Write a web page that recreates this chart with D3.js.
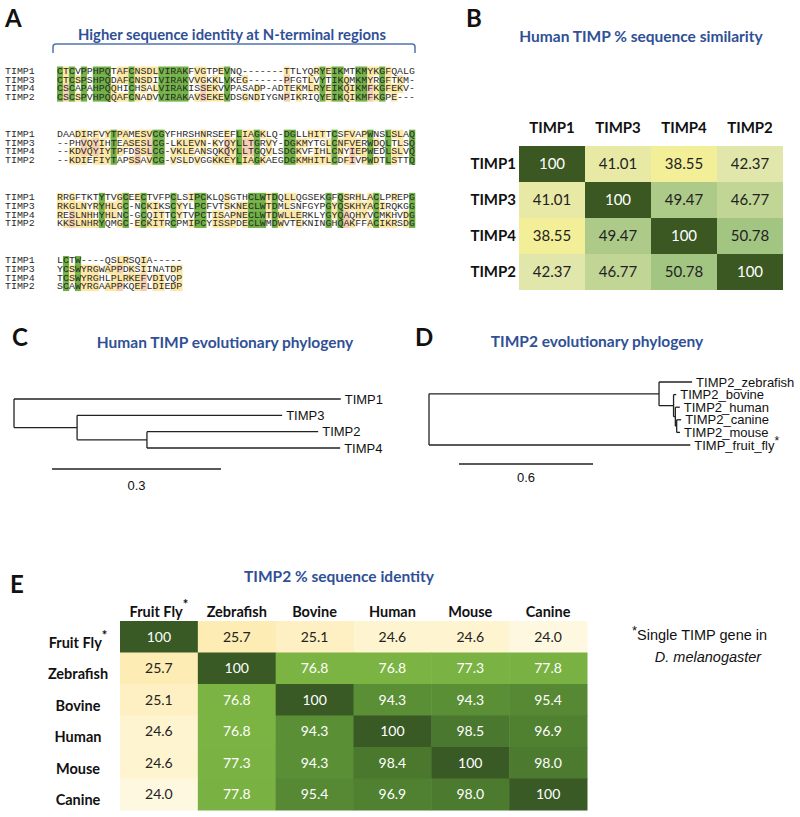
<!DOCTYPE html>
<html>
<head>
<meta charset="utf-8">
<script src="https://cdn.jsdelivr.net/npm/d3@7"></script>
<style>
  body { margin: 0; background: #fff; }
  text { font-family: Lato, "Open Sans", sans-serif; }
  .mono { font-family: "Liberation Mono", "DejaVu Sans Mono", monospace; font-size: 9.94px; fill: #2a2a2a; }
  .arial { font-family: "Liberation Sans", Arial, sans-serif; }
</style>
</head>
<body>
<svg id="fig" width="800" height="817"></svg>
<script>
// ---- data ----
const seqNames = ['TIMP1', 'TIMP3', 'TIMP4', 'TIMP2'];
const alignBlocks = [
  ['CTCVPPHPQTAFCNSDLVIRAKFVGTPEVNQ-------TTLYQRYEIKMTKMYKGFQALG',
   'CTCSPSHPQDAFCNSDIVIRAKVVGKKLVKEG------PFGTLVYTIKQMKMYRGFTKM-',
   'CSCAPAHPQQHICHSALVIRAKISSEKVVPASADP-ADTEKMLRYEIKQIKMFKGFEKV-',
   'CSCSPVHPQQAFCNADVVIRAKAVSEKEVDSGNDIYGNPIKRIQYEIKQIKMFKGPE---'],
  ['DAADIRFVYTPAMESVCGYFHRSHNRSEEFLIAGKLQ-DGLLHITTCSFVAPWNSLSLAQ',
   '--PHVQYIHTEASESLCG-LKLEVN-KYQYLLTGRVY-DGKMYTGLCNFVERWDQLTLSQ',
   '--KDVQYIYTPFDSSLCG-VKLEANSQKQYLLTGQVLSDGKVFIHLCNYIEPWEDLSLVQ',
   '--KDIEFIYTAPSSAVCG-VSLDVGGKKEYLIAGKAEGDGKMHITLCDFIVPWDTLSTTQ'],
  ['RRGFTKTYTVGCEECTVFPCLSIPCKLQSGTHCLWTDQLLQGSEKGFQSRHLACLPREPG',
   'RKGLNYRYHLGC-NCKIKSCYYLPCFVTSKNECLWTDMLSNFGYPGYQSKHYACIRQKGG',
   'RESLNHHYHLNC-GCQITTCYTVPCTISAPNECLWTDWLLERKLYGYQAQHYVCMKHVDG',
   'KKSLNHRYQMGC-ECKITRCPMIPCYISSPDECLWMDWVTEKNINGHQAKFFACIKRSDG'],
  ['LCTW----QSLRSQIA-----',
   'YCSWYRGWAPPDKSIINATDP',
   'TCSWYRGHLPLRKEFVDIVQP',
   'SCAWYRGAAPPKQEFLDIEDP']
];

const simLabels = ['TIMP1', 'TIMP3', 'TIMP4', 'TIMP2'];
const simValues = [
  [100, 41.01, 38.55, 42.37],
  [41.01, 100, 49.47, 46.77],
  [38.55, 49.47, 100, 50.78],
  [42.37, 46.77, 50.78, 100]
];

const idLabels = ['Fruit Fly', 'Zebrafish', 'Bovine', 'Human', 'Mouse', 'Canine'];
const idValues = [
  [100, 25.7, 25.1, 24.6, 24.6, 24.0],
  [25.7, 100, 76.8, 76.8, 77.3, 77.8],
  [25.1, 76.8, 100, 94.3, 94.3, 95.4],
  [24.6, 76.8, 94.3, 100, 98.5, 96.9],
  [24.6, 77.3, 94.3, 98.4, 100, 98.0],
  [24.0, 77.8, 95.4, 96.9, 98.0, 100]
];

// branch lengths
const humanTree = {name: '', len: 0, children: [
  {name: 'TIMP1', len: 0.58},
  {name: '', len: 0.112, children: [
    {name: 'TIMP3', len: 0.364},
    {name: '', len: 0.124, children: [
      {name: 'TIMP2', len: 0.304},
      {name: 'TIMP4', len: 0.343}
    ]}
  ]}
]};
const humanLeaves = ['TIMP1', 'TIMP3', 'TIMP2', 'TIMP4'];

const timp2Tree = {name: '', len: 0, children: [
  {name: '', len: 1.03, children: [
    {name: 'TIMP2_zebrafish', len: 0.148},
    {name: '', len: 0.065, children: [
      {name: 'TIMP2_bovine', len: 0.012},
      {name: '', len: 0.008, children: [
        {name: 'TIMP2_human', len: 0.02},
        {name: '', len: 0.006, children: [
          {name: 'TIMP2_canine', len: 0.02},
          {name: 'TIMP2_mouse', len: 0.015}
        ]}
      ]}
    ]}
  ]},
  {name: 'TIMP_fruit_fly', len: 1.17}
]};
const timp2Leaves = ['TIMP2_zebrafish', 'TIMP2_bovine', 'TIMP2_human', 'TIMP2_canine', 'TIMP2_mouse', 'TIMP_fruit_fly'];

// ---- drawing ----
const svg = d3.select('#fig');
const blue = '#2f5096';

// panel letters
[['A', 5, 27], ['B', 466, 27], ['C', 12, 346], ['D', 415, 346], ['E', 10, 593]].forEach(d => {
  svg.append('text').attr('x', d[1]).attr('y', d[2]).text(d[0])
     .style('font-size', '24px').style('font-weight', 'bold').style('fill', '#111');
});

// panel titles
[['Higher sequence identity at N-terminal regions', 232, 40, 14.8],
 ['Human TIMP % sequence similarity', 641, 42, 15.5],
 ['Human TIMP evolutionary phylogeny', 225, 348, 15.5],
 ['TIMP2 evolutionary phylogeny', 597, 347, 15.5],
 ['TIMP2 % sequence identity', 339, 582, 15.5]].forEach(d => {
  svg.append('text').attr('x', d[1]).attr('y', d[2]).attr('text-anchor', 'middle').text(d[0])
     .style('font-size', d[3] + 'px').style('font-weight', 'bold').style('fill', blue);
});

// ---- A: alignment ----
svg.append('path')
   .attr('d', 'M53,53 L53,47 Q53,44 56,44 L412,44 Q415,44 415,47 L415,53')
   .attr('fill', 'none').attr('stroke', '#4f74ad').attr('stroke-width', 1.5);

const hlColor = {g: '#6fb043', y: '#fde7a4', p: '#f6cdb3'};
const alnX = d3.scaleBand().domain(d3.range(60)).range([57, 415]);
const blockY = d3.scaleLinear().domain([0, 3]).range([66.5, 256]);
const rowH = 8.7;

function colClasses(col) {
  const res = col.filter(c => c !== '-');
  const counts = d3.rollup(res, v => v.length, c => c);
  if (res.length === col.length && counts.size === 1) return col.map(() => 'g');
  let cons = null, best = 1;
  col.forEach(c => { if (c !== '-' && counts.get(c) > best) { best = counts.get(c); cons = c; } });
  return col.map(c => (c === '-' || counts.get(c) < 2) ? null : (c === cons ? 'y' : 'p'));
}

alignBlocks.forEach((block, b) => {
  const top = blockY(b);
  const g = svg.append('g');
  const cells = [];
  d3.range(block[0].length).forEach(i => {
    const cls = colClasses(block.map(s => s[i]));
    cls.forEach((c, r) => { if (c) cells.push({i, r, c}); });
  });
  g.selectAll('rect').data(cells).enter().append('rect')
   .attr('x', d => alnX(d.i)).attr('y', d => top + d.r * rowH)
   .attr('width', alnX.bandwidth() + 0.3).attr('height', rowH + 0.3)
   .attr('fill', d => hlColor[d.c]);
  block.forEach((s, r) => {
    g.append('text').attr('class', 'mono').attr('x', 5).attr('y', top + r * rowH + 7.3).text(seqNames[r]);
    g.append('g').selectAll('text').data(s.split('')).enter().append('text')
     .attr('class', 'mono')
     .attr('x', (d, i) => alnX(i) + alnX.bandwidth() / 2)
     .attr('y', top + r * rowH + 7.3)
     .attr('text-anchor', 'middle')
     .text(d => d);
  });
});

// ---- B: similarity heatmap ----
const bx = d3.scaleBand().domain(simLabels).range([519, 783]);
const by = d3.scaleBand().domain(simLabels).range([146, 290]);
const simColor = d3.scaleLinear()
  .domain([38.55, 42.37, 50.78, 100])
  .range(['#f3ee98', '#e1e7aa', '#a3c582', '#3b5823']);
const simCells = [];
simValues.forEach((row, i) => row.forEach((v, j) => simCells.push({r: simLabels[i], c: simLabels[j], v})));
const gB = svg.append('g');
gB.selectAll('rect').data(simCells).enter().append('rect')
  .attr('x', d => bx(d.c)).attr('y', d => by(d.r))
  .attr('width', bx.bandwidth()).attr('height', by.bandwidth())
  .attr('fill', d => simColor(d.v));
gB.selectAll('text.val').data(simCells).enter().append('text')
  .attr('x', d => bx(d.c) + bx.bandwidth() / 2).attr('y', d => by(d.r) + by.bandwidth() / 2 + 5)
  .attr('text-anchor', 'middle')
  .style('font-size', '15px')
  .style('fill', d => d.v === 100 ? '#fff' : '#222')
  .text(d => d.v === 100 ? '100' : d.v.toFixed(2));
gB.selectAll('text.col').data(simLabels).enter().append('text')
  .attr('x', d => bx(d) + bx.bandwidth() / 2).attr('y', 133)
  .attr('text-anchor', 'middle').style('font-size', '15px').style('font-weight', 'bold').style('fill', '#111')
  .text(d => d);
gB.selectAll('text.row').data(simLabels).enter().append('text')
  .attr('x', 516).attr('y', d => by(d) + by.bandwidth() / 2 + 5)
  .attr('text-anchor', 'end').style('font-size', '15px').style('font-weight', 'bold').style('fill', '#111')
  .text(d => d);

// ---- C, D: trees ----
function drawTree(data, leaves, x, yRange, fontSize, star) {
  const y = d3.scalePoint().domain(leaves).range(yRange);
  const root = d3.hierarchy(data);
  root.eachBefore(n => { n.dist = (n.parent ? n.parent.dist : 0) + n.data.len; });
  root.leaves().forEach(n => { n.py = y(n.data.name); });
  root.eachAfter(n => {
    if (n.children) n.py = (n.children[0].py + n.children[n.children.length - 1].py) / 2;
  });
  const g = svg.append('g').attr('stroke', '#222').attr('stroke-width', 1.3).attr('fill', 'none');
  root.descendants().filter(n => n.parent).forEach(n => {
    g.append('line').attr('x1', x(n.parent.dist)).attr('x2', x(n.dist)).attr('y1', n.py).attr('y2', n.py);
  });
  root.descendants().filter(n => n.children).forEach(n => {
    g.append('line').attr('x1', x(n.dist)).attr('x2', x(n.dist))
     .attr('y1', n.children[0].py).attr('y2', n.children[n.children.length - 1].py);
  });
  root.leaves().forEach(n => {
    const t = svg.append('text').attr('class', 'arial')
      .attr('x', x(n.dist) + 4).attr('y', n.py + fontSize * 0.35)
      .style('font-size', fontSize + 'px').style('fill', '#111').text(n.data.name);
    if (star && n.data.name === star) {
      t.append('tspan').attr('dy', -5).style('font-size', '12px').text('*');
    }
  });
}

const xC = d3.scaleLinear().domain([0, 0.3]).range([14, 183]);
drawTree(humanTree, humanLeaves, xC, [399, 448], 13);
const barC = 52;
svg.append('line').attr('x1', barC).attr('x2', barC + xC(0.3) - xC(0)).attr('y1', 469).attr('y2', 469)
   .attr('stroke', '#222').attr('stroke-width', 1.5);
svg.append('text').attr('class', 'arial').attr('x', barC + (xC(0.3) - xC(0)) / 2).attr('y', 490)
   .attr('text-anchor', 'middle').style('font-size', '13px').style('fill', '#111').text('0.3');

const xD = d3.scaleLinear().domain([0, 0.6]).range([429, 563]);
drawTree(timp2Tree, timp2Leaves, xD, [382, 445], 13, 'TIMP_fruit_fly');
const barD = 459;
svg.append('line').attr('x1', barD).attr('x2', barD + xD(0.6) - xD(0)).attr('y1', 464).attr('y2', 464)
   .attr('stroke', '#222').attr('stroke-width', 1.5);
svg.append('text').attr('class', 'arial').attr('x', barD + (xD(0.6) - xD(0)) / 2).attr('y', 482)
   .attr('text-anchor', 'middle').style('font-size', '13px').style('fill', '#111').text('0.6');

// ---- E: identity heatmap ----
const ex = d3.scaleBand().domain(idLabels).range([120, 587]);
const ey = d3.scaleBand().domain(idLabels).range([621, 810]);
const idColor = d3.scaleLinear()
  .domain([24, 25.7, 76.8, 94.3, 98.5, 100])
  .range(['#fff8e0', '#fdecb3', '#7bb443', '#5b8f36', '#4a782e', '#3a5a25']);
const idCells = [];
idValues.forEach((row, i) => row.forEach((v, j) => idCells.push({r: idLabels[i], c: idLabels[j], v})));
const gE = svg.append('g');
gE.selectAll('rect').data(idCells).enter().append('rect')
  .attr('x', d => ex(d.c)).attr('y', d => ey(d.r))
  .attr('width', ex.bandwidth() + 0.5).attr('height', ey.bandwidth() + 0.5)
  .attr('fill', d => idColor(d.v));
gE.selectAll('text.val').data(idCells).enter().append('text')
  .attr('x', d => ex(d.c) + ex.bandwidth() / 2).attr('y', d => ey(d.r) + ey.bandwidth() / 2 + 5)
  .attr('text-anchor', 'middle')
  .style('font-size', '14px')
  .style('fill', d => d.v > 50 ? '#fff' : '#222')
  .text(d => d.v === 100 ? '100' : d.v.toFixed(1));
idLabels.forEach((d, i) => {
  const h = gE.append('text').attr('x', ex(d) + ex.bandwidth() / 2).attr('y', 617)
    .attr('text-anchor', 'middle').style('font-size', '14.5px').style('font-weight', 'bold').style('fill', '#111')
    .text(d);
  const r = gE.append('text').attr('x', 78).attr('y', ey(d) + ey.bandwidth() / 2 + 11)
    .attr('text-anchor', 'middle').style('font-size', '14.5px').style('font-weight', 'bold').style('fill', '#111')
    .text(d);
  if (i === 0) {
    h.append('tspan').attr('dy', -8).style('font-size', '13px').text('*');
    r.append('tspan').attr('dy', -8).style('font-size', '13px').text('*');
  }
});

// footnote
const fn = svg.append('text').attr('class', 'arial').attr('x', 632).attr('y', 640)
  .style('font-size', '14.5px').style('fill', '#111');
fn.append('tspan').attr('dy', -5).style('font-size', '13px').text('*');
fn.append('tspan').attr('dy', 5).text('Single TIMP gene in');
svg.append('text').attr('class', 'arial').attr('x', 708).attr('y', 662).attr('text-anchor', 'middle')
  .style('font-size', '14.5px').style('font-style', 'italic').style('fill', '#111').text('D. melanogaster');
</script>
</body>
</html>
